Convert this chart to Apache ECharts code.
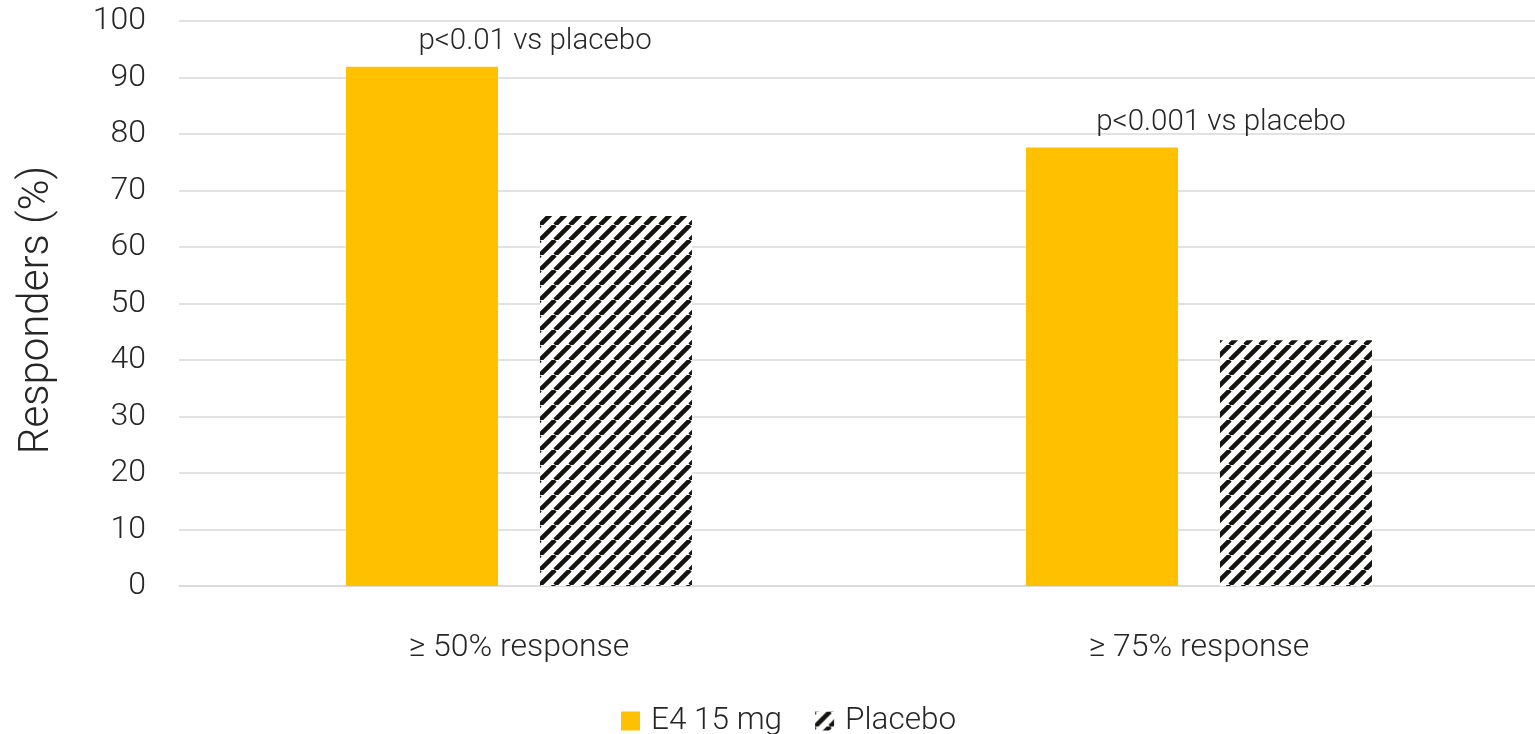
<!DOCTYPE html>
<html>
<head>
<meta charset="utf-8">
<script src="https://cdn.jsdelivr.net/npm/echarts@6/dist/echarts.min.js"></script>
<style>
  html, body { margin: 0; padding: 0; background: #fff; }
  #chart { width: 1535px; height: 734px; }
</style>
</head>
<body>
<div id="chart"></div>
<script>
// Responder rates by threshold
const categories = ['\u2265 50% response', '\u2265 75% response'];
const e4Values = [91.9, 77.6];
const placeboValues = [65.5, 43.5];
const pLabels = ['p<0.01 vs placebo', 'p<0.001 vs placebo'];
const yTicks = [0, 10, 20, 30, 40, 50, 60, 70, 80, 90, 100];

const FONT = 'Roboto';
const TEXT = '#262626';
// horizontal shift of each significance note from its bar centre
const NOTE_SHIFT = [113, 119];

// Diagonal black/white hatch tile for the placebo bars
function hatchPattern() {
  const s = 15;
  const c = document.createElement('canvas');
  c.width = s; c.height = s;
  const g = c.getContext('2d');
  g.fillStyle = '#fff';
  g.fillRect(0, 0, s, s);
  g.strokeStyle = '#16140f';
  g.lineWidth = 4.6;
  g.beginPath();
  for (let k = -1; k <= 1; k++) {
    g.moveTo(k * s, s);
    g.lineTo(k * s + s, 0);
  }
  g.stroke();
  return { image: c, repeat: 'repeat' };
}

const chart = echarts.init(document.getElementById('chart'), null, { renderer: 'canvas' });
chart.setOption({
  animation: false,
  backgroundColor: '#fff',
  textStyle: { fontFamily: FONT, fontWeight: 300, color: TEXT },
  grid: { left: 179, width: 1360, top: 21, bottom: 148, containLabel: false, outerBoundsMode: 'none' },
  legend: {
    top: 705,
    left: 621,
    padding: 0,
    itemWidth: 19,
    itemHeight: 19,
    itemGap: 33,
    icon: 'rect',
    textStyle: { fontFamily: FONT, fontWeight: 300, fontSize: 31.5, color: TEXT, padding: [0, 0, 0, 6] },
    data: ['E4 15 mg', 'Placebo']
  },
  xAxis: {
    type: 'category',
    data: categories,
    axisLine: { show: true, lineStyle: { color: '#d9d9d9', width: 1.5 } },
    axisTick: { show: false },
    axisLabel: { margin: 46, fontFamily: FONT, fontWeight: 300, fontSize: 32, color: TEXT }
  },
  yAxis: {
    type: 'value',
    min: yTicks[0],
    max: yTicks[yTicks.length - 1],
    interval: 10,
    name: 'Responders (%)',
    nameLocation: 'middle',
    nameGap: 121,
    nameRotate: 90,
    nameTextStyle: { fontFamily: FONT, fontWeight: 300, fontSize: 42, color: TEXT, padding: [0, 13, 0, 0] },
    axisLine: { show: false },
    axisTick: { show: false },
    axisLabel: { margin: 33, fontFamily: FONT, fontWeight: 300, fontSize: 32, color: TEXT },
    splitLine: { lineStyle: { color: '#d9d9d9', width: 1.5 } }
  },
  series: [
    {
      name: 'E4 15 mg',
      type: 'bar',
      data: e4Values.map((v, i) => ({ value: v, label: { offset: [NOTE_SHIFT[i], 0] } })),
      barWidth: 152,
      barGap: '27.6%',
      itemStyle: { color: '#ffc000' },
      label: {
        show: true,
        position: 'top',
        distance: 10,
        formatter: p => pLabels[p.dataIndex],
        fontFamily: FONT,
        fontWeight: 300,
        fontSize: 29.5,
        color: TEXT
      }
    },
    {
      name: 'Placebo',
      type: 'bar',
      data: placeboValues,
      barWidth: 152,
      itemStyle: { color: hatchPattern() }
    }
  ]
});
</script>
</body>
</html>
